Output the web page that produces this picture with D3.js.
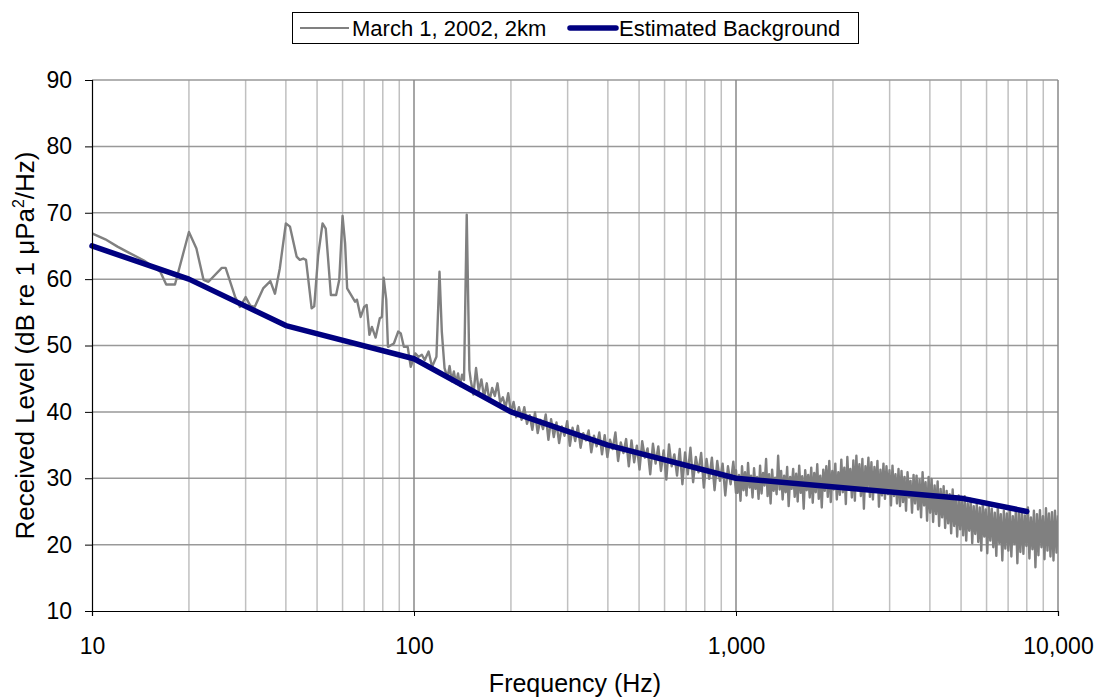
<!DOCTYPE html>
<html>
<head>
<meta charset="utf-8">
<script src="https://cdn.jsdelivr.net/npm/d3@7"></script>
<style>
  body { margin: 0; background: #fff; }
  svg { display: block; font-family: Arial, "Liberation Sans", sans-serif; }
</style>
</head>
<body>
<svg id="chart" width="1098" height="698"></svg>
<script>
// background estimate (thick navy line)
const bgFreqs = [10, 20, 40, 100, 200, 400, 1000, 5000, 8000]
const bgLevels = [65, 60, 53, 48, 40, 35, 30, 27, 25]

// measured spectrum, low part read point by point
const lowFreqs = [10, 11, 12, 13, 14.5, 16.3, 17, 18.1, 20, 21.1, 22.2, 23, 25.3, 26, 27.8, 28.8, 30, 31, 32, 34,
  35.8, 37, 38.3, 40, 41.2, 43.2, 44.2, 45.3, 46.2, 48.1, 49, 50.4, 52, 53.2, 55.2, 57.3, 58.6, 60, 61.1, 62,
  65.6, 66.5, 68.3, 70, 71.3, 72.7, 74, 76, 78.3, 79.5, 80.5, 82, 83, 86.6, 89.3, 91, 93, 95.6, 97.7, 100.9,
  103.3, 105.8, 108, 111, 113.8, 117.4, 120, 122, 124.4, 127, 129, 131, 133, 135, 137, 139, 141, 143, 145.8, 148.6]
const lowLevels = [66.9, 66, 64.9, 64, 62.8, 61.1, 59.2, 59.2, 67.1, 64.6, 59.9, 59.6, 61.7, 61.7, 57.4, 55.8, 57.3, 56, 55.8, 58.6,
  59.7, 57.8, 61.6, 68.4, 67.9, 63.4, 62.9, 63.1, 62.9, 55.6, 55.9, 63.6, 68.4, 67.6, 57.6, 57.6, 59.9, 69.5, 65.4, 58.6,
  56.6, 56.9, 54.3, 55.8, 56.1, 51.6, 52.8, 51.2, 54.1, 54.3, 60.2, 56.9, 49.8, 50.3, 52.1, 51.8, 49.8, 49.8, 46.8, 48.8,
  48.3, 48.6, 47.8, 49.1, 46.8, 48.3, 61.1, 52.1, 46.6, 45.2, 46.9, 44.6, 46.1, 44.3, 45.8, 43.9, 45.6, 44.8, 69.7, 46.3]

// dense parts of the spectrum, levels read along the band, evenly spread on the log axis
const midBandRange = [150, 1000]
const midBandLevels = [
  44.8, 42.6, 46.6, 43.1, 44.9, 42.2, 44.3, 41.6, 43.6, 42.4,
  44.3, 41.4, 42.2, 40.6, 42.8, 39.9, 41.5, 39.2, 40.7, 38.8,
  40.7, 38.2, 39.5, 37.3, 39.9, 36.8, 38.8, 37.4, 39.6, 35.8,
  38.9, 36.2, 38.4, 35.3, 37.8, 36.4, 38.6, 34.9, 37.6, 35.6,
  37.9, 34.6, 36.8, 35.7, 37.2, 33.9, 36.4, 34.8, 36.9, 33.6,
  36.5, 33.2, 35.8, 34.4, 36.9, 32.6, 35.4, 33.8, 35.9, 31.8,
  35.7, 32.4, 34.9, 31.3, 35.6, 33.1, 34.5, 30.6, 35.2, 32.2,
  34.8, 31.1, 34.2, 29.8, 35.1, 31.8, 33.6, 30.4, 34.4, 29.1,
  33.9, 30.6, 34.6, 29.4, 33.2, 30.9, 33.8, 28.6, 32.9, 29.9,
  33.1, 28.2, 32.6, 29.6, 32.2, 27.4, 31.8, 29.1, 32.5, 27.8
]
const highBandRange = [1000, 10000]
const highBandLevels = [
  31.2, 27.8, 30.5, 26.6, 31.8, 28.2, 30.9, 27.4, 32.3, 28.6,
  30.4, 27.1, 31.5, 28.4, 30.2, 26.9, 31.9, 27.7, 30.8, 28.9,
  32.9, 27.3, 30.6, 26.2, 31.3, 28.1, 30.1, 27.6, 33.4, 28.3,
  31.1, 26.8, 30.4, 27.9, 31.7, 25.8, 30.2, 28.4, 31.4, 27.2,
  30.7, 26.5, 31.9, 27.8, 30.3, 25.4, 31.2, 28.2, 30.5, 27.1,
  31.6, 26.3, 30.8, 27.9, 32.1, 26.9, 30.4, 25.6, 31.3, 28.1,
  31.8, 27.2, 32.6, 26.4, 31.1, 28.3, 32.2, 26.8, 30.9, 27.5,
  32.8, 27.9, 31.6, 26.1, 33.2, 28.4, 31.4, 27.1, 32.7, 26.6,
  33.4, 28.2, 32.1, 27.3, 32.9, 25.4, 31.8, 28.5, 33.1, 27.2,
  32.4, 26.8, 31.7, 28.1, 32.6, 25.7, 31.3, 27.4, 32.2, 26.9,
  31.8, 27.6, 31.2, 25.9, 31.9, 27.3, 30.6, 26.2, 31.4, 25.8,
  31.1, 26.4, 30.2, 25.1, 30.9, 27.1, 29.6, 24.8, 30.5, 26.2,
  30.4, 25.3, 29.8, 24.1, 30.9, 25.9, 29.4, 23.6, 30.2, 24.8,
  29.9, 23.4, 28.9, 24.6, 29.5, 22.8, 28.4, 24.1, 28.8, 22.5,
  28.1, 23.2, 27.6, 21.7, 28.3, 22.8, 26.9, 21.2, 27.4, 22.3,
  26.8, 21.4, 27.3, 20.6, 26.2, 22.1, 26.9, 20.2, 25.8, 21.6,
  26.1, 20.4, 25.6, 19.1, 26.4, 21.2, 25.3, 18.7, 25.9, 20.6,
  25.4, 19.6, 24.8, 18.3, 25.7, 20.2, 24.6, 17.6, 25.1, 19.4,
  24.7, 19.1, 25.4, 18.2, 24.3, 20.1, 25.2, 17.2, 24.8, 18.9,
  25.3, 18.6, 24.4, 19.8, 25.6, 17.9, 24.1, 19.3, 25.1, 16.6,
  24.6, 18.4, 25.2, 19.6, 24.3, 17.8, 25.5, 19.1, 24.7, 18.2,
  24.9, 17.6, 25.1, 18.8, 24.4
]

const xMajorTicks = [10, 100, 1000, 10000]
const yTicks = [10, 20, 30, 40, 50, 60, 70, 80, 90]
const seriesNames = ['March 1, 2002, 2km', 'Estimated Background']

const plot = { left: 92, right: 1058, top: 80, bottom: 611 }
const tickFont = 23
const titleFont = 25
const legendFont = 22

const svg = d3.select('#chart')

const x = d3.scaleLog().domain([10, 10000]).range([plot.left, plot.right])
const y = d3.scaleLinear().domain([10, 90]).range([plot.bottom, plot.top])

// spread the band levels across their frequency range on the log axis
function bandPoints (range, levels) {
  const logScale = d3.scaleLinear()
    .domain([0, levels.length - 1])
    .range([Math.log10(range[0]), Math.log10(range[1])])
  return levels.map((v, i) => [Math.pow(10, logScale(i)), v])
}

const spectrum = lowFreqs.map((f, i) => [f, lowLevels[i]])
  .concat(bandPoints(midBandRange, midBandLevels))
  .concat(bandPoints(highBandRange, highBandLevels))

const background = bgFreqs.map((f, i) => [f, bgLevels[i]])

// grid
const minorTicks = []
for (let d = 10; d < 10000; d *= 10) {
  for (let k = 2; k <= 9; k++) minorTicks.push(d * k)
}

const grid = svg.append('g').attr('class', 'grid')

grid.selectAll('line.minor')
  .data(minorTicks)
  .enter()
  .append('line')
  .attr('class', 'minor')
  .attr('x1', d => x(d))
  .attr('x2', d => x(d))
  .attr('y1', plot.top)
  .attr('y2', plot.bottom)
  .attr('stroke', '#c0c0c0')
  .attr('stroke-width', 1.5)

grid.selectAll('line.hgrid')
  .data(yTicks.filter(d => d > 10))
  .enter()
  .append('line')
  .attr('class', 'hgrid')
  .attr('x1', plot.left)
  .attr('x2', plot.right)
  .attr('y1', d => y(d))
  .attr('y2', d => y(d))
  .attr('stroke', '#999')
  .attr('stroke-width', 1.5)

grid.selectAll('line.major')
  .data(xMajorTicks.filter(d => d > 10))
  .enter()
  .append('line')
  .attr('class', 'major')
  .attr('x1', d => x(d))
  .attr('x2', d => x(d))
  .attr('y1', plot.top)
  .attr('y2', plot.bottom)
  .attr('stroke', '#888')
  .attr('stroke-width', 1.5)

// series
svg.append('clipPath')
  .attr('id', 'plot-clip')
  .append('rect')
  .attr('x', plot.left)
  .attr('y', plot.top)
  .attr('width', plot.right - plot.left)
  .attr('height', plot.bottom - plot.top)

const line = d3.line()
  .x(d => x(d[0]))
  .y(d => y(d[1]))

svg.append('path')
  .datum(spectrum)
  .attr('clip-path', 'url(#plot-clip)')
  .attr('fill', 'none')
  .attr('stroke', '#808080')
  .attr('stroke-width', 2.4)
  .attr('stroke-linejoin', 'round')
  .attr('d', line)

svg.append('path')
  .datum(background)
  .attr('fill', 'none')
  .attr('stroke', '#000080')
  .attr('stroke-width', 5.5)
  .attr('stroke-linecap', 'round')
  .attr('stroke-linejoin', 'round')
  .attr('d', line)

// axes
const yAxis = d3.axisLeft(y)
  .tickValues(yTicks)
  .tickSize(7)
  .tickPadding(13)

const yAxisG = svg.append('g')
  .attr('transform', `translate(${plot.left},0)`)
  .call(yAxis)
yAxisG.select('.domain').attr('stroke', '#000').attr('stroke-width', 1.2)
yAxisG.selectAll('.tick line').attr('stroke', '#000')
yAxisG.selectAll('.tick text')
  .attr('font-size', tickFont)
  .attr('font-family', 'Arial, "Liberation Sans", sans-serif')
  .attr('fill', '#000')

const xAxis = d3.axisBottom(x)
  .tickValues(xMajorTicks)
  .tickFormat(d3.format(','))
  .tickSize(5)
  .tickPadding(22)

const xAxisG = svg.append('g')
  .attr('transform', `translate(0,${plot.bottom})`)
  .call(xAxis)
xAxisG.select('.domain').attr('stroke', '#000').attr('stroke-width', 1.2)
xAxisG.selectAll('.tick line').attr('stroke', '#000')
xAxisG.selectAll('.tick text')
  .attr('font-size', tickFont)
  .attr('font-family', 'Arial, "Liberation Sans", sans-serif')
  .attr('fill', '#000')

// axis titles
svg.append('text')
  .attr('x', (plot.left + plot.right) / 2)
  .attr('y', 692)
  .attr('text-anchor', 'middle')
  .attr('font-size', titleFont)
  .text('Frequency (Hz)')

const yTitle = svg.append('text')
  .attr('transform', `translate(34,${(plot.top + plot.bottom) / 2}) rotate(-90)`)
  .attr('text-anchor', 'middle')
  .attr('font-size', 26)
yTitle.append('tspan').text('Received Level (dB re 1 \u03bcPa')
yTitle.append('tspan').attr('font-size', 16).attr('dy', -10).text('2')
yTitle.append('tspan').attr('dy', 10).text('/Hz)')

// legend
const legend = svg.append('g').attr('class', 'legend')
legend.append('rect')
  .attr('x', 292.5)
  .attr('y', 12.5)
  .attr('width', 566)
  .attr('height', 31)
  .attr('fill', '#fff')
  .attr('stroke', '#000')

const legendItems = [
  { name: seriesNames[0], color: '#808080', width: 2, x0: 300, x1: 349, tx: 352 },
  { name: seriesNames[1], color: '#000080', width: 5.5, x0: 570, x1: 616, tx: 619 }
]

legendItems.forEach(item => {
  legend.append('line')
    .attr('x1', item.x0)
    .attr('x2', item.x1)
    .attr('y1', 28)
    .attr('y2', 28)
    .attr('stroke', item.color)
    .attr('stroke-width', item.width)
    .attr('stroke-linecap', item.width > 2 ? 'round' : 'butt')
  legend.append('text')
    .attr('x', item.tx)
    .attr('y', 36)
    .attr('font-size', legendFont)
    .text(item.name)
})
</script>
</body>
</html>
